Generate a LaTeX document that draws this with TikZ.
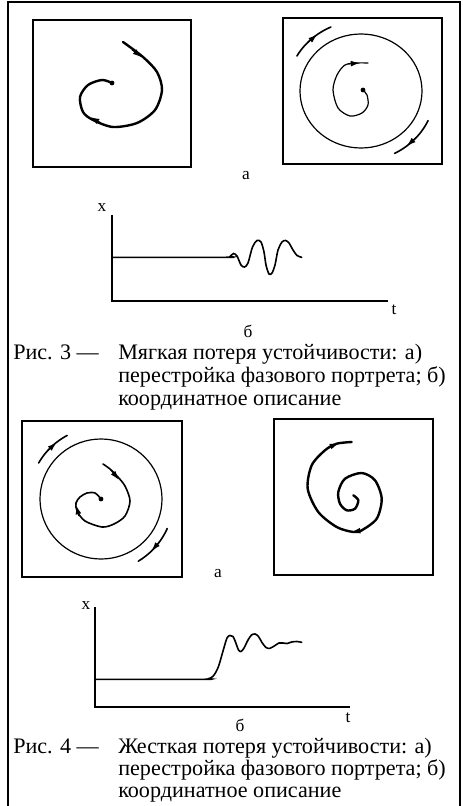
\documentclass[tikz,border=0pt]{standalone}
\usepackage{fontspec}
\setmainfont{Liberation Serif}
\usetikzlibrary{arrows.meta}

\begin{document}
\begin{tikzpicture}[x=0.75pt, y=-0.75pt,
  portbox/.style={line width=1.35pt},
  thickline/.style={line width=1.8pt, line cap=round},
  midline/.style={line width=1.2pt, line cap=round},
  thinline/.style={line width=0.9pt, line cap=round},
  axisline/.style={line width=1.2pt},
  flowtip/.style={-{Latex[length=7pt, width=4.4pt]}, line width=1pt},
  lbl/.style={inner sep=0pt, font=\fontsize{13}{15}\selectfont},
  captext/.style={inner sep=0pt, anchor=base west, font=\fontsize{16.6}{20}\selectfont}]

\useasboundingbox (0,0) rectangle (463,806);

% Frame
\draw[line width=0.9pt] (8,806) -- (8,2) -- (460,2) -- (460,806);

% Portraits, Fig. 3
\draw[portbox] (33,20) rectangle (191,167);
\draw[portbox] (283,18) rectangle (442,164);

% Stable focus
\coordinate (f1) at (112,83);
\draw[thickline]
plot[smooth] coordinates {(123,42) (143,57) (157,72) (162,90) (155,110)
  (137,123) (113,127) (93,120) (83,112) (80,97) (88,85) (102,80) (112,83)};
\draw[flowtip] (132,49.5) -- (142,57.5);
\draw[flowtip] (100,122.5) -- (90,117);
\fill (f1) circle (1.8pt);

% Cycle and unstable focus
\draw[thinline] plot[domain=0:360, samples=73] ({361+61*cos(\x)}, {91+57*sin(\x)}) -- cycle;
\draw[midline] plot[domain=210:246, samples=20] ({361+74*cos(\x)}, {91+70*sin(\x)});
\draw[flowtip] ({361+74*cos(224)}, {91+70*sin(224)}) -- ({361+74*cos(234)}, {91+70*sin(234)});
\draw[midline] plot[domain=25:63, samples=20] ({361+74*cos(\x)}, {91+70*sin(\x)});
\draw[flowtip] ({361+74*cos(42)}, {91+70*sin(42)}) -- ({361+74*cos(52)}, {91+70*sin(52)});
\coordinate (f2) at (363,90);
\draw[thinline]
plot[smooth] coordinates {(363,90) (367,95) (368,105) (362,113) (350,116)
  (338,108) (333,90) (337,75) (345,65) (357,63) (368,63)};
\draw[flowtip, line width=0.9pt] (348,63.8) -- (360,63);
\fill (f2) circle (1.8pt);

\node[lbl] (a1) at (246,176) {а};

% Graph, Fig. 3
\draw[axisline] (112,215) -- (112,301) -- (388,301);
\draw[midline]
plot[smooth, tension=0.5] coordinates {(112,257.3) (226,257.3) (230,256.5) (233.5,253.5)
  (237,256) (241,265) (244.5,267) (248,263) (252.5,247) (257,240.5) (261,242) (264,252)
  (266,265) (269,274) (272,273) (275,265) (278,250) (282,242) (285.5,240.5) (289,243)
  (293,250) (297,255.5) (301.7,257.3)};
\node[lbl] (x1) at (102,208) {x};
\node[lbl] (t1) at (394,310) {t};
\node[lbl] (b1) at (248,331) {б};

% Caption, Fig. 3
\node[captext] (c3) at (13,359) {Рис. 3 ---};
\node[captext] (c3a) at (118,359) {Мягкая потеря устойчивости: а)};
\node[captext] (c3b) at (118,382) {перестройка фазового портрета; б)};
\node[captext] (c3c) at (118,405) {координатное описание};

% Portraits, Fig. 4
\draw[portbox] (22,421) rectangle (182,577);
\draw[portbox] (274,419) rectangle (433,575);

% Cycle and stable focus
\draw[thinline] plot[domain=0:360, samples=73] ({101+61*cos(\x)}, {499+60*sin(\x)}) -- cycle;
\draw[midline] plot[domain=210:242, samples=20] ({101+72*cos(\x)}, {499+72*sin(\x)});
\draw[flowtip] ({101+72*cos(222)}, {499+72*sin(222)}) -- ({101+72*cos(232)}, {499+72*sin(232)});
\draw[midline] plot[domain=24:59, samples=20] ({101+72.5*cos(\x)}, {499+72.5*sin(\x)});
\draw[flowtip] ({101+72.5*cos(36)}, {499+72.5*sin(36)}) -- ({101+72.5*cos(46)}, {499+72.5*sin(46)});
\coordinate (f3) at (101,499);
\draw[midline]
plot[smooth] coordinates {(103,464) (110,469) (117,476) (125,486) (130,501)
  (125,516) (114,524) (102,527) (85,521) (77,511) (76,503) (80,497) (87,493) (95,493) (101,499)};
\draw[flowtip] (111,470) -- (119,480);
\draw[flowtip] (79,516) -- (76,505);
\fill (f3) circle (1.8pt);

% Unstable focus
\draw[thickline]
plot[smooth] coordinates {(353.3,495.3) (358.3,500.3) (355,508.7) (346.7,510.3)
  (340,503.7) (338.3,492) (345,478.7) (361.7,473) (375,480.3) (381.7,498.7) (376.7,518.7)
  (361.7,530.3) (353.3,532) (336.7,527) (318.3,512) (307.7,488.7) (311.7,465.3) (325,450.3)
  (336.7,443.7) (351.7,442)};
\draw[flowtip] (363,530.3) -- (351,532);
\draw[flowtip] (327,448) -- (339,443);

\node[lbl] (a2) at (218,574) {а};

% Graph, Fig. 4
\draw[axisline] (95,607) -- (95,707) -- (350,707);
\draw[midline]
plot[smooth, tension=0.5] coordinates {(95,679.3) (204,679.3) (209,678.5) (213.3,676)
  (218.3,667) (223.3,650) (227,638) (230,635.5) (233,636.5) (235.5,642) (238.5,650)
  (241,651.5) (244,648) (248,640) (251.5,635) (255,634) (258.5,636.5) (262,642.5)
  (266,647.5) (270,648.3) (275,645.5) (279,643) (283,643) (287,643.5) (291.7,642)
  (296.7,641.5) (301.7,642.3)};
\node[lbl] (x2) at (86,606) {x};
\node[lbl] (t2) at (348,718) {t};
\node[lbl] (b2) at (240,725) {б};

% Caption, Fig. 4
\node[captext] (c4) at (13,753) {Рис. 4 ---};
\node[captext] (c4a) at (118,753) {Жесткая потеря устойчивости: а)};
\node[captext] (c4b) at (118,775) {перестройка фазового портрета; б)};
\node[captext] (c4c) at (118,797) {координатное описание};

\end{tikzpicture}
\end{document}
